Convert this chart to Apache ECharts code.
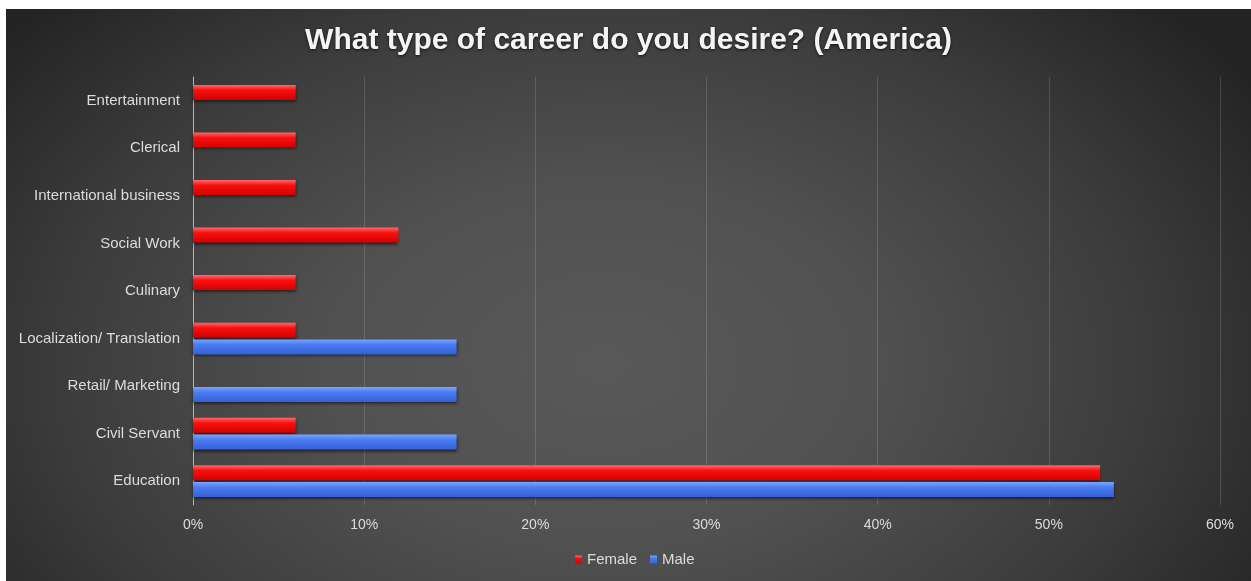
<!DOCTYPE html>
<html>
<head>
<meta charset="utf-8">
<script src="https://cdn.jsdelivr.net/npm/echarts@6/dist/echarts.min.js"></script>
<style>
  html, body { margin: 0; padding: 0; background: #ffffff; width: 1251px; height: 581px; overflow: hidden; }
  #chart {
    position: absolute; left: 6px; top: 9px; width: 1245px; height: 572px;
    background: radial-gradient(ellipse 62% 90% at 48% 62%, #595959 0%, #515151 35%, #3c3c3c 70%, #242424 100%);
  }
</style>
</head>
<body>
<div id="chart"></div>
<script>
// Career categories, listed bottom to top as drawn on the y axis
const categories = [
  'Education',
  'Civil Servant',
  'Retail/ Marketing',
  'Localization/ Translation',
  'Culinary',
  'Social Work',
  'International business',
  'Clerical',
  'Entertainment'
];
// Share of respondents (%)
const femaleValues = [53, 6, null, 6, 6, 12, 6, 6, 6];
const maleValues = [53.8, 15.4, 15.4, 15.4, null, null, null, null, null];
const seriesNames = ['Female', 'Male'];
const xTicks = { min: 0, max: 60, interval: 10 };

const chart = echarts.init(document.getElementById('chart'), null, { renderer: 'canvas' });

function barStyle(top, mid, bottom) {
  return {
    color: new echarts.graphic.LinearGradient(0, 0, 0, 1, [
      { offset: 0, color: top },
      { offset: 0.35, color: mid },
      { offset: 1, color: bottom }
    ]),
    shadowColor: 'rgba(0,0,0,0.6)',
    shadowBlur: 3,
    shadowOffsetY: 2
  };
}

const labelColor = '#dcdcdc';
const font = 'Liberation Sans, Arial, sans-serif';

chart.setOption({
  backgroundColor: 'transparent',
  animation: false,
  title: {
    text: 'What type of career do you desire? (America)',
    left: 'center',
    top: 12,
    textStyle: {
      color: '#f4f4f4',
      fontFamily: font,
      fontWeight: 'bold',
      fontSize: 30,
      textShadowColor: 'rgba(0,0,0,0.75)',
      textShadowBlur: 3,
      textShadowOffsetY: 1
    }
  },
  legend: {
    data: seriesNames,
    left: 564,
    top: 538,
    itemWidth: 7,
    itemHeight: 8,
    itemGap: 13,
    icon: 'rect',
    textStyle: { color: labelColor, fontFamily: font, fontSize: 15 }
  },
  grid: { left: 187, right: 31, top: 68, bottom: 76, containLabel: false },
  xAxis: {
    type: 'value',
    min: xTicks.min,
    max: xTicks.max,
    interval: xTicks.interval,
    axisLine: { show: false },
    axisTick: { show: false },
    axisLabel: {
      formatter: '{value}%',
      color: labelColor,
      fontFamily: font,
      fontSize: 14,
      margin: 13
    },
    splitLine: { show: true, lineStyle: { color: 'rgba(255,255,255,0.14)', width: 1 } }
  },
  yAxis: {
    type: 'category',
    data: categories,
    axisLine: { show: true, lineStyle: { color: '#b4b4b4', width: 1 } },
    axisTick: { show: false },
    axisLabel: {
      color: labelColor,
      fontFamily: font,
      fontSize: 15,
      margin: 13
    },
    splitLine: { show: false }
  },
  series: [
    {
      name: seriesNames[0],
      type: 'bar',
      data: femaleValues,
      barWidth: 15,
      barGap: '12%',
      itemStyle: barStyle('#ff6a6a', '#f81010', '#d40000')
    },
    {
      name: seriesNames[1],
      type: 'bar',
      data: maleValues,
      barWidth: 15,
      barGap: '12%',
      itemStyle: barStyle('#7ba3ff', '#4a7cf2', '#3561d6')
    }
  ]
});
</script>
</body>
</html>
